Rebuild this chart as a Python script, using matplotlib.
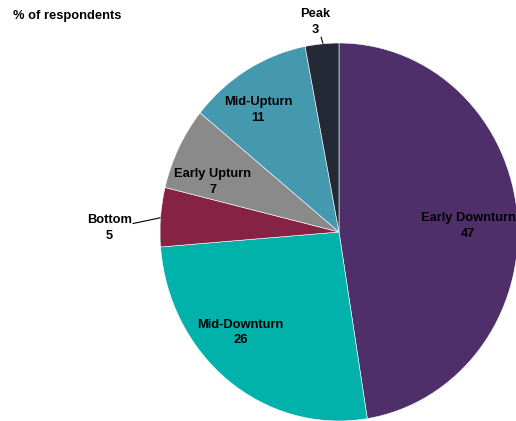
import matplotlib
matplotlib.use("Agg")
import matplotlib.pyplot as plt

# Survey share by cycle stage (% of respondents)
stages = ["Early Downturn", "Mid-Downturn", "Bottom", "Early Upturn", "Mid-Upturn", "Peak"]
shares = [47, 26, 5, 7, 11, 3]
colors = ["#4E2F6A", "#00B2A9", "#862345", "#8A8A8A", "#4499AF", "#232A36"]

# Label anchor points (data coords, unit-radius pie)
label_xy = [(0.723, 0.032), (-0.55, -0.532), (-1.282, 0.021),
            (-0.704, 0.265), (-0.45, 0.645), (-0.134, 1.111)]
# Leader lines for the labels placed outside the pie
leaders = {"Bottom": ((-1.15, 0.045), (-1.0, 0.075)),
           "Peak": ((-0.10, 1.03), (-0.09, 1.0))}

plt.rcParams["font.family"] = ["Liberation Sans", "DejaVu Sans"]

W, H = 516, 421
fig = plt.figure(figsize=(W / 100, H / 100), dpi=100)
# Elliptical pie area: x 160..518 px, y 43..421 px
ax = fig.add_axes([160 / W, 0 / H, 358 / W, 378 / H])
ax.pie(shares, colors=colors, startangle=90, counterclock=False, radius=1.0,
       wedgeprops=dict(edgecolor="white", linewidth=0.4))
ax.set_aspect("auto")
ax.set_xlim(-1, 1)
ax.set_ylim(-1, 1)
ax.axis("off")

for name, val, (x, y) in zip(stages, shares, label_xy):
    ax.text(x, y, f"{name}\n{val}", ha="center", va="center",
            fontsize=9.3, fontweight="bold", color="black",
            linespacing=1.4, clip_on=False)

for name, (p0, p1) in leaders.items():
    ax.plot([p0[0], p1[0]], [p0[1], p1[1]], color="black", lw=0.8,
            clip_on=False)

fig.text(13 / W, 1 - 16 / H, "% of respondents", ha="left", va="center",
         fontsize=9.3, fontweight="bold", color="black")

fig.savefig("out.png", dpi=100)
